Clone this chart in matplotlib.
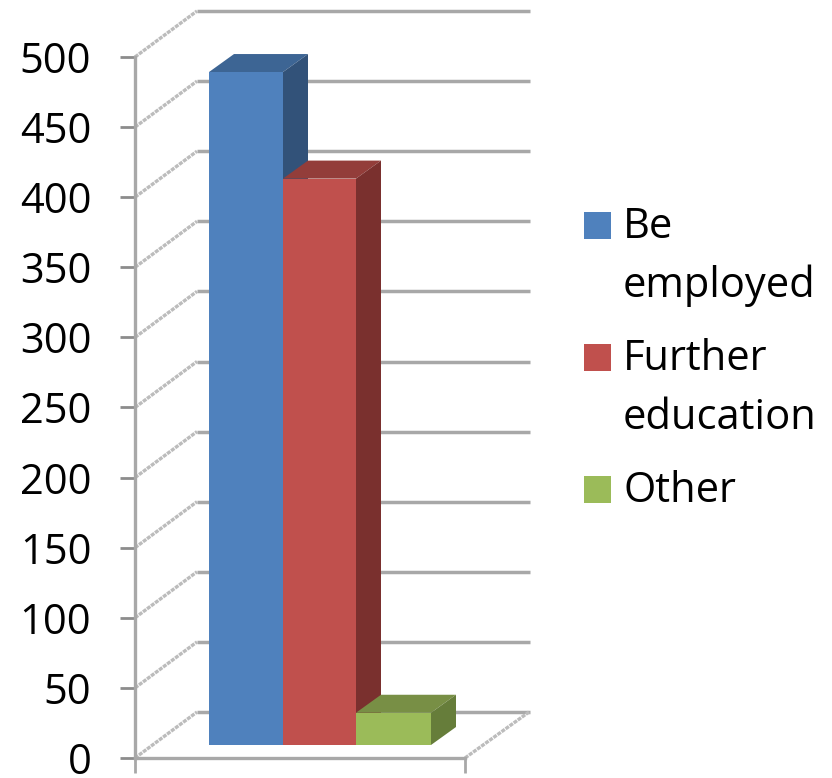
import matplotlib
matplotlib.use('Agg')
import matplotlib.pyplot as plt
from matplotlib.patches import Polygon, Rectangle

plt.rcParams['font.family'] = ['Open Sans', 'DejaVu Sans']

# values
categories = ['Be\nemployed', 'Further\neducation', 'Other']
values = [480, 404, 23]
front_colors = ['#4F81BD', '#C0504D', '#9BBB59']
top_colors = ['#3D6594', '#933D3A', '#788F45']
side_colors = ['#325279', '#7A302E', '#667D3A']
y_ticks = [0, 50, 100, 150, 200, 250, 300, 350, 400, 450, 500]

W, H = 832, 778
fig = plt.figure(figsize=(W / 100, H / 100), dpi=100)
# axes box = front plane of the fake 3D chart, x in pixels, y in data units
ax = fig.add_axes([135 / W, 1 - 758 / H, 330 / W, 701 / H])
ax.set_xlim(135, 465)
ax.set_ylim(0, 500)

px = 500 / 701  # one pixel in y data units
wall_dx = 62
wall_dy = 46 * px
bar_dx = 25
bar_dy = 18 * px
bar_base = 13 * px  # bars stand a bit behind the front edge of the floor
bar_lefts = [209, 283, 356]
bar_width = [74, 73, 75]

grid_col = '#a8a8a8'
wall_col = '#bcbcbc'

# back wall grid and side wall lines
for v in y_ticks:
    ax.plot([135 + wall_dx, 530], [v + wall_dy, v + wall_dy], color=grid_col, lw=2.5, clip_on=False, zorder=1, solid_capstyle='butt')
    ax.plot([135, 135 + wall_dx], [v, v + wall_dy], color=wall_col, lw=2.4, ls=(0, (1.2, 0.3)), clip_on=False, zorder=1)

# floor right edge
ax.plot([465, 529], [0, wall_dy], color=wall_col, lw=2.4, ls=(0, (1.2, 0.3)), clip_on=False, zorder=1)

# bars
for i in range(len(values)):
    left = bar_lefts[i]
    w = bar_width[i]
    top = bar_base + values[i]
    z = 3 + i
    ax.bar(left, values[i], width=w, bottom=bar_base, align='edge', color=front_colors[i], zorder=z + 0.5, clip_on=False)
    ax.add_patch(Polygon([(left, top), (left + w, top), (left + w + bar_dx, top + bar_dy), (left + bar_dx, top + bar_dy)],
                         closed=True, facecolor=top_colors[i], edgecolor='none', zorder=z, clip_on=False))
    ax.add_patch(Polygon([(left + w, bar_base), (left + w + bar_dx, bar_base + bar_dy), (left + w + bar_dx, top + bar_dy), (left + w, top)],
                         closed=True, facecolor=side_colors[i], edgecolor='none', zorder=z, clip_on=False))

# axes
for s in ['top', 'right']:
    ax.spines[s].set_visible(False)
for s in ['left', 'bottom']:
    ax.spines[s].set_color(grid_col)
    ax.spines[s].set_linewidth(2.4)
ax.set_yticks(y_ticks)
ax.set_xticks([135, 465])
ax.set_xticklabels([])
ax.tick_params(axis='y', length=10.5, width=2, color='#8c8c8c', labelsize=30, labelcolor='black', pad=21)
ax.tick_params(axis='x', length=11, width=2, color=grid_col)
ax.patch.set_alpha(0)

# legend, drawn by hand to keep the wrapped labels
legend_tops = [212, 344, 476]
label_baselines = [[238, 297], [370, 429], [502]]
for i in range(len(categories)):
    fig.add_artist(Rectangle((584 / W, 1 - (legend_tops[i] + 27) / H), 27 / W, 27 / H, transform=fig.transFigure,
                             facecolor=front_colors[i], edgecolor='none'))
    for line, base in zip(categories[i].split('\n'), label_baselines[i]):
        fig.text(623 / W, 1 - base / H, line, fontsize=30, color='black', va='baseline', ha='left')

fig.savefig('out.png', dpi=100, facecolor='white')
